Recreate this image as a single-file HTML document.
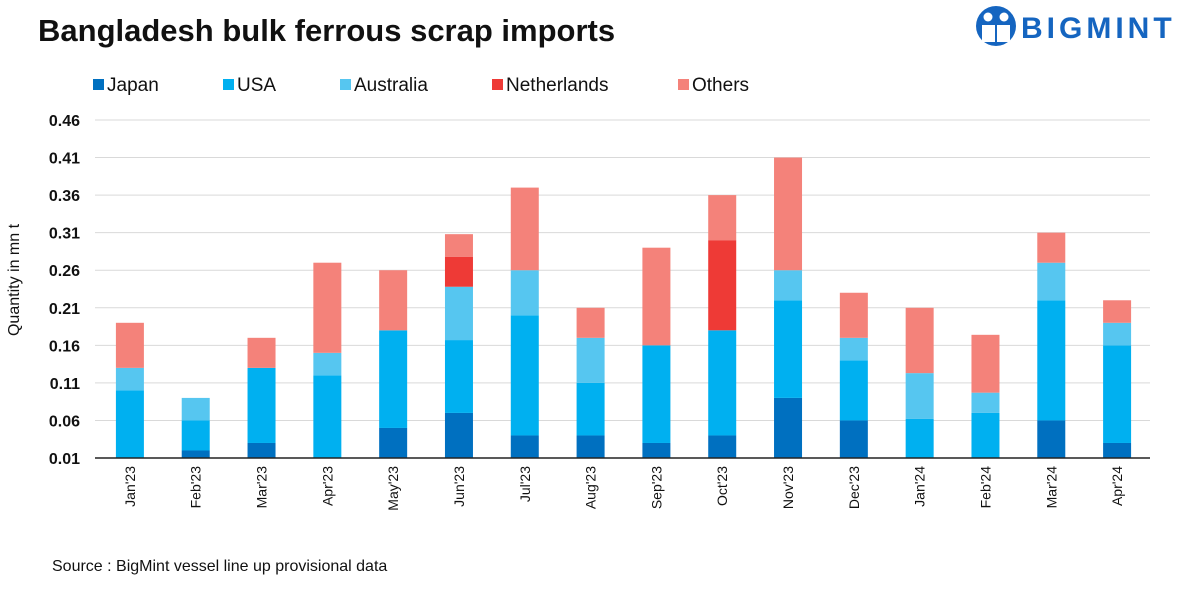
<!DOCTYPE html>
<html><head><meta charset="utf-8"><style>
body{margin:0;background:#fff;width:1201px;height:600px;overflow:hidden;font-family:"Liberation Sans",Arial,sans-serif}
</style></head><body>
<svg width="1201" height="600" xmlns="http://www.w3.org/2000/svg">
<text x="38" y="41" font-size="31" font-weight="bold" fill="#111">Bangladesh bulk ferrous scrap imports</text>
<g>
<circle cx="996" cy="26" r="20" fill="#1565c0"/>
<circle cx="988" cy="17" r="4.5" fill="#fff"/><circle cx="1004" cy="17" r="4.5" fill="#fff"/>
<path d="M982 25h13v17h-13zM997 25h13v17h-13z" fill="#fff"/>
<text x="1021" y="38" font-size="30" font-weight="bold" fill="#1565c0" letter-spacing="4">BIGMINT</text>
</g>
<g id="legend"></g>
<g id="grid"></g><g id="bars"></g><g id="axes"></g>
<text transform="translate(19,280) rotate(-90)" text-anchor="middle" font-size="16" fill="#111">Quantity in mn t</text>
<text x="52" y="571" font-size="16" fill="#111">Source : BigMint vessel line up provisional data</text>
</svg>
<script>
const categories=["Jan'23","Feb'23","Mar'23","Apr'23","May'23","Jun'23","Jul'23","Aug'23","Sep'23","Oct'23","Nov'23","Dec'23","Jan'24","Feb'24","Mar'24","Apr'24"];
const seriesNames=["Japan","USA","Australia","Netherlands","Others"];
const seriesColors=["#0070c0","#00b0f0","#56c6f0","#ee3a36","#f4827a"];
const japan=[0,0.02,0.03,0,0.05,0.07,0.04,0.04,0.03,0.04,0.09,0.06,0,0,0.06,0.03];
const usa=[0.10,0.04,0.10,0.12,0.13,0.097,0.16,0.07,0.13,0.14,0.13,0.08,0.062,0.07,0.16,0.13];
const australia=[0.03,0.03,0,0.03,0,0.071,0.06,0.06,0,0,0.04,0.03,0.061,0.027,0.05,0.03];
const netherlands=[0,0,0,0,0,0.04,0,0,0,0.12,0,0,0,0,0,0];
const others=[0.06,0,0.04,0.12,0.08,0.03,0.11,0.04,0.13,0.06,0.15,0.06,0.087,0.077,0.04,0.03];
const yTicks=[0.01,0.06,0.11,0.16,0.21,0.26,0.31,0.36,0.41,0.46];
const series=[japan,usa,australia,netherlands,others];
const NS="http://www.w3.org/2000/svg";
const x0=97,x1=1150,yMin=0.01,yMax=0.46,py0=458,py1=120;
const y=v=>py0-(Math.max(v,yMin)-yMin)/(yMax-yMin)*(py0-py1);
const band=(x1-x0)/categories.length;
const xc=i=>x0+band*(i+0.5);
function mk(t,a,p){const e=document.createElementNS(NS,t);for(const k in a)e.setAttribute(k,a[k]);p.appendChild(e);return e;}
const grid=document.getElementById('grid'),bars=document.getElementById('bars'),axes=document.getElementById('axes'),leg=document.getElementById('legend');
yTicks.forEach(t=>{
 const l=mk('line',{x1:95,x2:x1,y1:y(t),y2:y(t),stroke:'#d9d9d9','stroke-width':1},grid);
 
 
 const tx=mk('text',{x:80,y:y(t)+6,'text-anchor':'end','font-size':16,'font-weight':'bold',fill:'#111'},axes);
 tx.textContent=t.toFixed(2);
 
 
});
categories.forEach((c,i)=>{
 let cum=0;
 series.forEach((s,k)=>{
  const v=s[i]; if(!v){return;}
  const top=y(cum+v),bot=y(cum);cum+=v;
  const r=mk('rect',{x:xc(i)-14,y:top,width:28,height:Math.max(0,bot-top),fill:seriesColors[k]},bars);
  
  
 });
 const tx=mk('text',{transform:`translate(${xc(i)+5},466) rotate(-90)`,'text-anchor':'end','font-size':14,fill:'#111'},axes);
 tx.textContent=c;
 
 
});
const ax=mk('line',{x1:95,x2:x1,y1:py0,y2:py0,stroke:'#222','stroke-width':1.5},axes);


const lx=[93,223,340,492,678];
seriesNames.forEach((n,k)=>{
 const r=mk('rect',{x:lx[k],y:79,width:11,height:11,fill:seriesColors[k]},leg);
 
 
 const t=mk('text',{x:lx[k]+14,y:91,'font-size':19,fill:'#111'},leg);
 t.textContent=n;
 
 
});
</script>
</body></html>
